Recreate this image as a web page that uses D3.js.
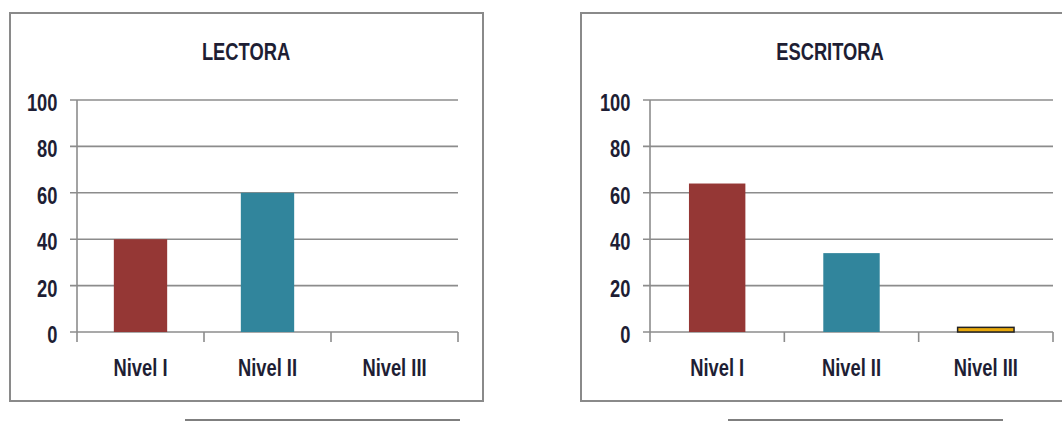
<!DOCTYPE html>
<html>
<head>
<meta charset="utf-8">
<script src="https://cdn.jsdelivr.net/npm/d3@7"></script>
<style>
  body { margin: 0; background: #fff; }
  text { font-family: "Liberation Sans", Arial, sans-serif; font-weight: bold; fill: #1e1e34; }
</style>
</head>
<body>
<div id="chart"></div>
<script>
// data
var categories = ["Nivel I", "Nivel II", "Nivel III"];
var lectoraValues = [40, 60, 0];
var escritoraValues = [64, 34, 2];
var yTicks = [0, 20, 40, 60, 80, 100];
var barColors = ["#953735", "#31859c", "#e8a90c"];

var svgWidth = 1062;
var svgHeight = 421;
var squeeze = 0.78; // narrow the glyphs, the original font is condensed

var svg = d3.select("#chart")
  .append("svg")
  .attr("width", svgWidth)
  .attr("height", svgHeight);

function narrowText(sel, x, y) {
  return sel.attr("transform", (d, i) =>
    `translate(${x(d, i)}, ${y(d, i)}) scale(${squeeze}, 1)`);
}

function drawChart(cfg, values) {
  var width = cfg.plotRight - cfg.plotLeft;
  var height = cfg.plotBottom - cfg.plotTop;

  // outer frame
  svg.append("rect")
    .attr("x", cfg.frame[0])
    .attr("y", cfg.frame[1])
    .attr("width", cfg.frame[2])
    .attr("height", cfg.frame[3])
    .attr("fill", "none")
    .attr("stroke", "#8a8a8a")
    .attr("stroke-width", 2);

  // line underneath each frame
  svg.append("line")
    .attr("x1", cfg.under[0]).attr("x2", cfg.under[1])
    .attr("y1", 420).attr("y2", 420)
    .attr("stroke", "#555")
    .attr("stroke-width", 1.5);

  narrowText(svg.append("text").datum(cfg.title), () => cfg.titleX, () => 60)
    .attr("text-anchor", "middle")
    .attr("font-size", 23.5)
    .text(cfg.title);

  var g = svg.append("g")
    .attr("transform", `translate(${cfg.plotLeft}, ${cfg.plotTop})`);

  var x = d3.scaleBand()
    .domain(categories)
    .range([0, width])
    .paddingInner(0.58)
    .paddingOuter(0.29);

  var y = d3.scaleLinear()
    .domain([0, 100])
    .range([height, 0]);

  // gridlines
  g.append("g")
    .selectAll("line")
    .data(yTicks)
    .enter()
    .append("line")
    .attr("x1", -7)
    .attr("x2", width)
    .attr("y1", d => y(d))
    .attr("y2", d => y(d))
    .attr("stroke", "#8c8c8c")
    .attr("stroke-width", 1.6);

  // y axis labels
  narrowText(g.append("g")
    .selectAll("text")
    .data(yTicks)
    .enter()
    .append("text"), () => -19.5, d => y(d) + 11)
    .attr("text-anchor", "end")
    .attr("font-size", 23.5)
    .text(d => d);

  // bars
  g.selectAll("rect.bar")
    .data(values)
    .enter()
    .append("rect")
    .attr("class", "bar")
    .attr("x", (d, i) => x(categories[i]))
    .attr("y", d => y(d))
    .attr("width", x.bandwidth())
    .attr("height", d => height - y(d))
    .attr("fill", (d, i) => barColors[i])
    .attr("stroke", (d, i) => i === 2 && d > 0 ? "#222" : "none")
    .attr("stroke-width", 1.5);

  // y axis line
  g.append("line")
    .attr("x1", 0).attr("x2", 0)
    .attr("y1", 0).attr("y2", height + 10)
    .attr("stroke", "#8c8c8c")
    .attr("stroke-width", 1.6);

  // category boundary ticks
  var step = x.step();
  g.append("g")
    .selectAll("line")
    .data(d3.range(1, categories.length + 1))
    .enter()
    .append("line")
    .attr("x1", d => d * step)
    .attr("x2", d => d * step)
    .attr("y1", height)
    .attr("y2", height + 10)
    .attr("stroke", "#8c8c8c")
    .attr("stroke-width", 1.6);

  // category labels
  narrowText(g.append("g")
    .selectAll("text")
    .data(categories)
    .enter()
    .append("text"), d => x(d) + x.bandwidth() / 2, () => height + 44)
    .attr("text-anchor", "middle")
    .attr("font-size", 23.5)
    .text(d => d);
}

drawChart({
  title: "LECTORA", titleX: 246,
  frame: [10, 13, 473, 388],
  under: [185, 460],
  plotLeft: 77, plotRight: 458, plotTop: 100, plotBottom: 332
}, lectoraValues);

drawChart({
  title: "ESCRITORA", titleX: 830,
  frame: [581, 13, 500, 388],
  under: [728, 1003],
  plotLeft: 650, plotRight: 1053, plotTop: 100, plotBottom: 332
}, escritoraValues);
</script>
</body>
</html>
